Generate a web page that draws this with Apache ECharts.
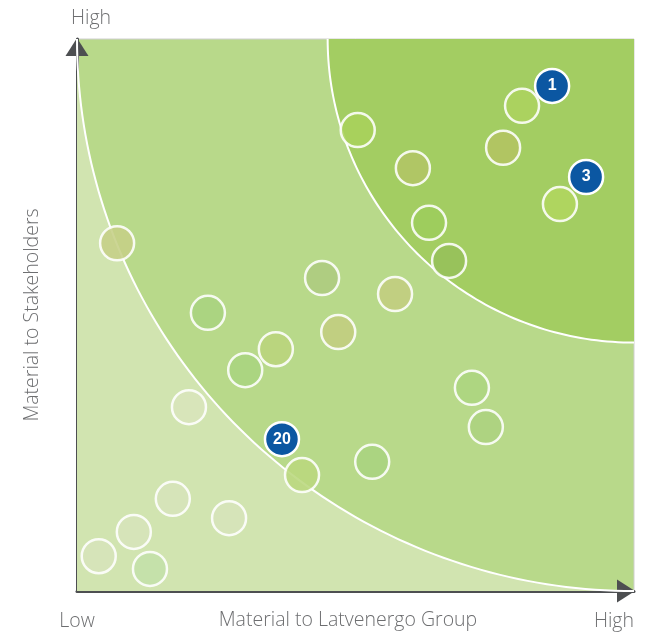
<!DOCTYPE html>
<html>
<head>
<meta charset="utf-8">
<script src="https://cdn.jsdelivr.net/npm/echarts@6/dist/echarts.min.js"></script>
<style>html,body{margin:0;padding:0;background:#fff}#chart{width:653px;height:635px}</style>
</head>
<body>
<div id="chart"></div>
<script>
// ---- data ----
const xTickLabels = ['Low', 'High'];        // at x = 0 and x = 100
const yTopLabel = 'High';
const xTitle = 'Material to Latvenergo Group';
const yTitle = 'Material to Stakeholders';

// materiality zone boundaries (radius from top-right corner, in axis units)
const zoneRadii = [100, 55];

// topics (unnumbered circles)
const topicX = [79.9, 50.4, 60.3, 76.5, 86.7, 63.2, 66.8, 23.5, 44.0, 57.1, 46.9, 35.7, 30.2, 70.9, 73.4, 53.0, 20.1, 40.4, 17.2, 27.3, 10.2, 3.9, 13.1, 7.2];
const topicY = [87.9, 83.5, 76.6, 80.3, 70.1, 66.7, 59.8, 50.4, 56.7, 53.8, 46.9, 43.8, 40.0, 36.8, 29.7, 23.4, 33.3, 21.0, 16.7, 13.2, 10.7, 6.3, 4.0, 63.0];
const topicFill = ['#acd35e', '#a9d15b', '#b2c565', '#b3c462', '#b0d65f', '#9dcd5c', '#96c05a', '#a9d37f', '#adcb7f', '#c2cd80', '#c2cd80', '#b9d47c', '#a8d480', '#acd580', '#acd27f', '#a9d37f', '#d8e5bb', '#b9d77d', '#d6e4b9', '#d6e4b9', '#d6e4b9', '#d6e4b9', '#c3e0a8', '#c5cf86'];

// highlighted numbered topics
const keyX = [85.3, 91.4, 36.8];
const keyY = [91.5, 75.0, 27.5];
const keyLabels = ['1', '3', '20'];

// ---- chart ----
const FONT = '"Open Sans", Roboto, "Liberation Sans", sans-serif';
const FS = 19.5;
const TEXT = '#6d6e70';
const AXIS = '#4d4f51';
const chart = echarts.init(document.getElementById('chart'), null, {renderer: 'canvas'});

function arcPoints(api, r) {
  const pts = [];
  const n = 90;
  for (let i = 0; i <= n; i++) {
    const t = (Math.PI / 2) * i / n;
    pts.push(api.coord([100 - r * Math.cos(t), 100 - r * Math.sin(t)]));
  }
  return pts;
}

const option = {
  animation: false,
  grid: {left: 77, right: 19, top: 39, bottom: 44, containLabel: false, outerBoundsMode: 'none',
    show: true, backgroundColor: '#b8d98a', borderColor: '#cfcfcf', borderWidth: 1},
  xAxis: {
    type: 'value', min: 0, max: 100, interval: 100,
    name: xTitle, nameLocation: 'middle', nameGap: 19, nameMoveOverlap: false,
    nameTextStyle: {fontFamily: FONT, fontSize: FS, fontWeight: 300, color: TEXT, verticalAlign: 'top', padding: [0, 15, 0, 0]},
    axisLine: {show: true, onZero: false, symbol: ['none', 'triangle'], symbolSize: [23, 18], symbolOffset: [0, -8], lineStyle: {color: AXIS, width: 3}},
    axisTick: {show: false}, splitLine: {show: false},
    axisLabel: {margin: 20, fontFamily: FONT, fontSize: FS, fontWeight: 300, color: TEXT,
      alignMinLabel: 'center', alignMaxLabel: 'right',
      formatter: v => v === 0 ? xTickLabels[0] : (v === 100 ? xTickLabels[1] : '')}
  },
  yAxis: [{
    type: 'value', min: 0, max: 100, interval: 100,
    name: yTitle, nameLocation: 'middle', nameGap: 35, nameRotate: 90, nameMoveOverlap: false,
    nameTextStyle: {fontFamily: FONT, fontSize: FS, fontWeight: 300, color: TEXT},
    axisLine: {show: true, onZero: false, symbol: ['none', 'triangle'], symbolSize: [23, 18], symbolOffset: [0, -8], lineStyle: {color: AXIS, width: 3}},
    axisTick: {show: false}, splitLine: {show: false}, axisLabel: {show: false}
  }, {
    type: 'value', min: 0, max: 100, position: 'left',
    name: yTopLabel, nameLocation: 'end', nameGap: 11,
    nameTextStyle: {fontFamily: FONT, fontSize: FS, fontWeight: 300, color: TEXT, padding: [0, 0, 0, 28]},
    axisLine: {show: false}, axisTick: {show: false}, splitLine: {show: false}, axisLabel: {show: false}
  }],
  series: [{
    type: 'custom', z: 1, silent: true,
    data: [[0, 0]],
    renderItem: function (params, api) {
      const outer = arcPoints(api, zoneRadii[0]);
      const inner = arcPoints(api, zoneRadii[1]);
      return {
        type: 'group',
        children: [
          {type: 'polygon', shape: {points: [api.coord([0, 0])].concat(outer)}, style: {fill: '#d1e4b0'}},
          {type: 'polygon', shape: {points: [api.coord([100, 100])].concat(inner)}, style: {fill: '#a3cd62'}},
          {type: 'polyline', shape: {points: outer}, style: {stroke: '#ffffff', lineWidth: 2, fill: null}},
          {type: 'polyline', shape: {points: inner}, style: {stroke: '#ffffff', lineWidth: 2, fill: null}}
        ]
      };
    }
  }, {
    type: 'scatter', z: 3, symbol: 'circle', symbolSize: 34,
    data: topicX.map((x, i) => ({value: [x, topicY[i]], itemStyle: {color: topicFill[i]}})),
    itemStyle: {borderColor: '#ffffff', borderWidth: 2.5, opacity: 0.88}
  }, {
    type: 'scatter', z: 4, symbol: 'circle', symbolSize: 34,
    data: keyX.map((x, i) => ({value: [x, keyY[i]], name: keyLabels[i]})),
    itemStyle: {color: '#0b57a2', borderColor: '#ffffff', borderWidth: 2.5, opacity: 1},
    label: {show: true, position: 'inside', formatter: p => p.name, color: '#ffffff', fontFamily: '"Liberation Sans", Arial, sans-serif', fontWeight: 'bold', fontSize: 16}
  }]
};
chart.setOption(option);
</script>
</body>
</html>
